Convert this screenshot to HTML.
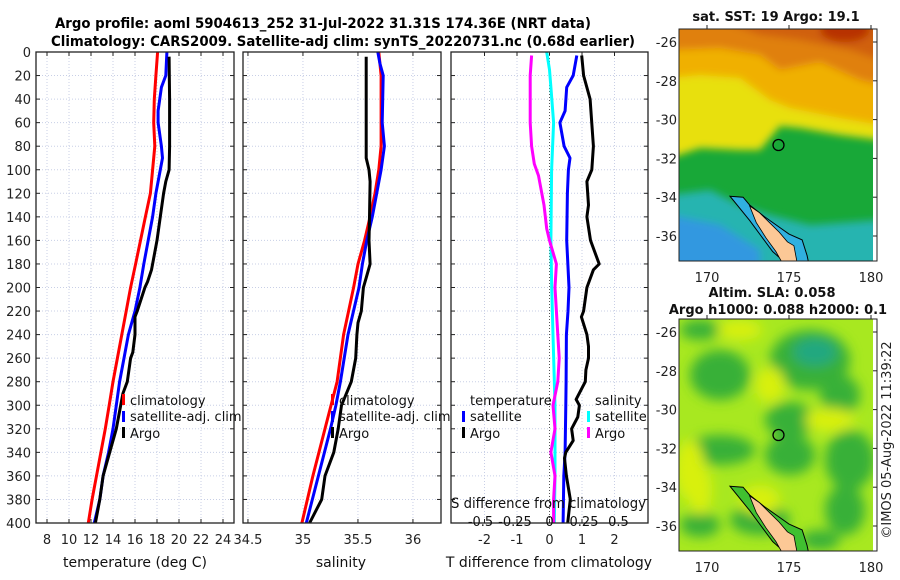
<!DOCTYPE html>
<html><head><meta charset="utf-8">
<style>
html,body{margin:0;padding:0;background:#fff;}
svg{display:block;font-family:"DejaVu Sans","Liberation Sans",sans-serif;}
</style></head>
<body>
<svg id="chart" width="900" height="580" viewBox="0 0 900 580" xmlns="http://www.w3.org/2000/svg">
<defs>
<filter id="blur4" x="-20%" y="-20%" width="140%" height="140%"><feGaussianBlur stdDeviation="4"/></filter>
<filter id="blur6" x="-20%" y="-20%" width="140%" height="140%"><feGaussianBlur stdDeviation="6"/></filter>
<clipPath id="clipMap1"><rect x="679" y="29" width="194" height="232"/></clipPath>
<clipPath id="clipMap2"><rect x="679" y="319" width="194" height="232"/></clipPath>
</defs>
<text x="323" y="28" text-anchor="middle" font-size="14" font-weight="bold" textLength="536" lengthAdjust="spacingAndGlyphs">Argo profile: aoml 5904613_252 31-Jul-2022 31.31S 174.36E (NRT data)</text>
<text x="343" y="46" text-anchor="middle" font-size="14" font-weight="bold" textLength="584" lengthAdjust="spacingAndGlyphs">Climatology: CARS2009. Satellite-adj clim: synTS_20220731.nc (0.68d earlier)</text>
<g id="panels"></g>
<g id="maps"></g>
<text transform="translate(891,440) rotate(-90)" text-anchor="middle" font-size="13" fill="#222">©IMOS 05-Aug-2022 11:39:22</text>
</svg>
<script>
// ---------- data ----------
const depthTicks = [0,20,40,60,80,100,120,140,160,180,200,220,240,260,280,300,320,340,360,380,400];
const tempTicks = [8,10,12,14,16,18,20,22,24];
const salTicks = [34.5,35,35.5,36];
const salTickLabels = ["34.5","35","35.5","36"];
const tdiffTicks = [-2,-1,0,1,2];
const sdiffTicks = [-0.5,-0.25,0,0.25,0.5];
const sdiffTickLabels = ["-0.5","-0.25","0","0.25","0.5"];

const tClimDepth = [0,20,40,60,80,100,120,140,160,180,200,220,240,260,280,300,320,340,360,380,400];
const tClim = [18.05,17.9,17.75,17.7,17.8,17.6,17.4,16.95,16.5,16.05,15.6,15.2,14.8,14.4,14.0,13.65,13.3,12.9,12.5,12.1,11.75];
const tSatDepth = [0,20,30,50,60,80,90,100,120,140,160,180,200,220,240,260,280,300,320,340,360,380,400];
const tSat = [18.9,18.8,18.4,18.1,18.1,18.4,18.5,18.3,17.9,17.6,17.2,16.8,16.45,16.0,15.4,15.0,14.6,14.3,14.0,13.6,13.1,12.8,12.3];
const tArgoDepth = [4,20,40,60,80,100,110,120,140,160,180,185,195,200,220,225,240,255,260,280,290,300,320,340,350,360,380,400];
const tArgo = [19.1,19.12,19.15,19.15,19.15,19.1,18.8,18.6,18.3,18.0,17.6,17.5,17.15,16.9,16.2,16.0,16.0,15.8,15.6,15.3,14.9,14.7,14.3,13.7,13.4,13.1,12.8,12.4];

const sClimDepth = [0,20,80,100,120,140,160,180,200,240,280,320,360,400];
const sClim = [35.69,35.71,35.71,35.69,35.655,35.61,35.56,35.5,35.46,35.37,35.31,35.2,35.09,34.99];
const sSatDepth = [0,10,20,60,80,100,120,140,160,180,200,240,280,300,320,360,400];
const sSat = [35.68,35.70,35.73,35.72,35.74,35.71,35.67,35.63,35.58,35.54,35.51,35.41,35.34,35.3,35.25,35.14,35.03];
const sArgoDepth = [4,40,90,100,110,140,160,180,190,200,220,230,240,260,280,300,320,340,360,380,400];
const sArgo = [35.575,35.575,35.575,35.6,35.61,35.605,35.6,35.61,35.58,35.55,35.53,35.5,35.49,35.48,35.44,35.35,35.32,35.28,35.2,35.17,35.06];

const dTSatDepth = [3,20,30,50,60,80,90,100,120,160,200,220,240,280,300,340,360,400];
const dTSat = [0.84,0.73,0.53,0.48,0.32,0.45,0.63,0.58,0.55,0.53,0.6,0.57,0.52,0.51,0.5,0.48,0.44,0.42];
const dTArgoDepth = [3,20,40,80,100,110,130,140,160,180,185,200,220,225,240,250,260,270,280,295,300,310,320,330,340,345,360,380,400];
const dTArgo = [0.99,1.05,1.25,1.35,1.3,1.15,1.2,1.15,1.26,1.53,1.35,1.15,1.05,0.98,1.15,1.2,1.2,1.12,1.1,0.82,0.92,0.87,0.68,0.73,0.5,0.46,0.52,0.64,0.56];
const dSSatDepth = [0,15,30,60,100,160,200,240,300,360,400];
const dSSat = [-0.02,0.0,0.01,0.03,0.015,0.01,0.016,0.025,0.04,0.04,0.035];
const dSArgoDepth = [3,20,60,80,95,105,130,150,160,180,200,220,240,260,280,300,320,340,360,380,400];
const dSArgo = [-0.13,-0.14,-0.14,-0.13,-0.11,-0.08,-0.04,-0.02,0.0,0.05,0.04,0.05,0.06,0.07,0.06,0.025,0.04,0.01,0.04,0.03,0.03];

const mapLonTicks = [170,175,180];
const mapLatTicks = [-26,-28,-30,-32,-34,-36];
const argoLon = 174.36, argoLat = -31.31;

// ---------- helpers ----------
const NS = "http://www.w3.org/2000/svg";
function mk(tag, attrs, parent){ const e=document.createElementNS(NS,tag); for(const k in attrs) e.setAttribute(k,attrs[k]); parent.appendChild(e); return e; }
const yTop=52, yBot=523;
const yScale = d => yTop + (d/400)*(yBot-yTop);
const panelsG = document.getElementById('panels');

function panelFrame(name, x0, x1, xs, ticks, labels, withDepthLabels){
  const g = mk('g',{},panelsG);
  
  
  ticks.forEach(t=>{ const x=xs(t);
    const l=mk('line',{x1:x,x2:x,y1:yTop,y2:yBot,stroke:'#c8cfe6','stroke-width':1,'stroke-dasharray':'1,2'},g);
    
    
  });
  depthTicks.forEach(d=>{ const y=yScale(d);
    const l=mk('line',{x1:x0,x2:x1,y1:y,y2:y,stroke:'#c8cfe6','stroke-width':1,'stroke-dasharray':'1,2'},g);
    
    
    mk('line',{x1:x0,x2:x0+4,y1:y,y2:y,stroke:'#222'},g);
    mk('line',{x1:x1-4,x2:x1,y1:y,y2:y,stroke:'#222'},g);
    if(withDepthLabels){ const t=mk('text',{x:x0-5,y:y+5,'text-anchor':'end','font-size':13,fill:'#222'},g); t.textContent=d;
      
       }
  });
  ticks.forEach((t,i)=>{ const x=xs(t);
    mk('line',{x1:x,x2:x,y1:yBot,y2:yBot-4,stroke:'#222'},g);
    mk('line',{x1:x,x2:x,y1:yTop,y2:yTop+4,stroke:'#222'},g);
    if(labels){ const tx=mk('text',{x:x,y:yBot+21,'text-anchor':'middle','font-size':13,fill:'#222'},g); tx.textContent=labels[i];
      
       }
  });
  return g;
}
function line(g, xs, vals, depths, color, name, w){
  const pts = vals.map((v,i)=>xs(v).toFixed(1)+','+yScale(depths[i]).toFixed(1)).join(' ');
  const p = mk('polyline',{points:pts,fill:'none',stroke:color,'stroke-width':w||3,'stroke-linejoin':'round'},g);
  
  
}
function frame(g,x0,x1){ mk('rect',{x:x0,y:yTop,width:x1-x0,height:yBot-yTop,fill:'none',stroke:'#222','stroke-width':1.3},g); }
function txt(g,x,y,s,name,opts){ const t=mk('text',Object.assign({x:x,y:y,'font-size':13,fill:'#111'},opts||{}),g); t.textContent=s;
  
   return t; }
function legMark(g,x,y,color){ mk('rect',{x:x,y:y-10,width:3,height:11,fill:color},g); }

// ---------- panel 1: temperature ----------
const tx = v => 36 + (v-7)*11;
const g1 = panelFrame('temperature-panel',36,234,tx,tempTicks,tempTicks.map(String),true);
line(g1,tx,tClim,tClimDepth,'#ff0000','temp-climatology-line');
line(g1,tx,tSat,tSatDepth,'#0000ff','temp-satellite-adj-line');
line(g1,tx,tArgo,tArgoDepth,'#000000','temp-argo-line');
frame(g1,36,234);
txt(g1,135,567,'temperature (deg C)','temperature-axis-title',{'text-anchor':'middle','font-size':14});
legMark(g1,122,404,'#ff0000'); txt(g1,130,405,'climatology','legend-climatology');
legMark(g1,122,421,'#0000ff'); txt(g1,130,421,'satellite-adj. clim','legend-satellite-adj');
legMark(g1,122,437,'#000'); txt(g1,130,438,'Argo','legend-argo');

// ---------- panel 2: salinity ----------
const sx = v => 243 + (v-34.455)*110;
const g2 = panelFrame('salinity-panel',243,441,sx,salTicks,salTickLabels,false);
line(g2,sx,sClim,sClimDepth,'#ff0000','sal-climatology-line');
line(g2,sx,sSat,sSatDepth,'#0000ff','sal-satellite-adj-line');
line(g2,sx,sArgo,sArgoDepth,'#000000','sal-argo-line');
frame(g2,243,441);
txt(g2,341,567,'salinity','salinity-axis-title',{'text-anchor':'middle','font-size':14});
legMark(g2,331,404,'#ff0000'); txt(g2,339,405,'climatology','legend-climatology');
legMark(g2,331,421,'#0000ff'); txt(g2,339,421,'satellite-adj. clim','legend-satellite-adj');
legMark(g2,331,437,'#000'); txt(g2,339,438,'Argo','legend-argo');

// ---------- panel 3: differences ----------
const dtx = v => 549.5 + v*32.5;
const dsx = v => 549.5 + v*138;
const g3 = panelFrame('difference-panel',451,648,dtx,tdiffTicks,tdiffTicks.map(String),false);
const z = mk('line',{x1:549.5,x2:549.5,y1:yTop,y2:yBot,stroke:'#555','stroke-width':1,'stroke-dasharray':'1,2'},g3);


line(g3,dsx,dSSat,dSSatDepth,'#00ffff','sal-diff-satellite-line');
line(g3,dsx,dSArgo,dSArgoDepth,'#ff00ff','sal-diff-argo-line');
line(g3,dtx,dTSat,dTSatDepth,'#0000ff','temp-diff-satellite-line');
line(g3,dtx,dTArgo,dTArgoDepth,'#000000','temp-diff-argo-line');
frame(g3,451,648);
txt(g3,549,567,'T difference from climatology','tdiff-axis-title',{'text-anchor':'middle','font-size':14});
txt(g3,451,508,'S difference from climatology','sdiff-axis-title',{'font-size':14,textLength:195,lengthAdjust:'spacingAndGlyphs'});
sdiffTicks.forEach((t,i)=>{ txt(g3,dsx(t),526,sdiffTickLabels[i],'sdiff-tick-label',{'text-anchor':'middle'}); });
txt(g3,470,405,'temperature','legend-temperature-header');
legMark(g3,462,421,'#0000ff'); txt(g3,470,421,'satellite','legend-temp-satellite');
legMark(g3,462,437,'#000'); txt(g3,470,438,'Argo','legend-temp-argo');
txt(g3,595,405,'salinity','legend-salinity-header');
legMark(g3,587,421,'#00ffff'); txt(g3,595,421,'satellite','legend-sal-satellite');
legMark(g3,587,437,'#ff00ff'); txt(g3,595,438,'Argo','legend-sal-argo');

// ---------- maps ----------
const mapsG = document.getElementById('maps');
const lonX = lon => 707 + (lon-170)*16.4;
function latY(top){ return lat => top + (-26-lat)*19.4; }
function nzLand(g, ly, fillOuter){
  const outer = [[171.4,-33.95],[172.2,-34.0],[172.6,-34.4],[173.5,-35.0],[174.5,-35.6],[175.0,-35.9],[175.8,-36.2],[176.1,-37.0],[176.2,-37.4],[174.8,-37.4],[174.0,-36.8],[173.3,-36.0],[172.6,-35.2]];
  const land = [[172.6,-34.45],[173.2,-34.8],[173.8,-35.3],[174.4,-35.8],[174.9,-36.3],[175.3,-36.5],[175.5,-37.4],[174.6,-37.4],[174.2,-36.8],[173.6,-36.1],[173.0,-35.3]];
  const ptsO = outer.map(p=>lonX(p[0])+','+ly(p[1])).join(' ');
  const o=mk('polygon',{points:ptsO,fill:fillOuter,stroke:'#000','stroke-width':1},g);
  
  
  const ptsL = land.map(p=>lonX(p[0])+','+ly(p[1])).join(' ');
  const l=mk('polygon',{points:ptsL,fill:'#fcc896',stroke:'#000','stroke-width':0.8},g);
  
  
}
function mapAxes(g, top, ly){
  mk('rect',{x:679,y:top,width:198,height:232,fill:'none',stroke:'#222','stroke-width':1},g);
  mapLatTicks.forEach(lat=>{ const y=ly(lat);
    mk('line',{x1:873,x2:877,y1:y,y2:y,stroke:'#222'},g);
    txt(g,677,y+5,String(lat),'map-lat-tick-label',{'text-anchor':'end',fill:'#222'}); });
  mapLonTicks.forEach(lon=>{ const x=lonX(lon);
    mk('line',{x1:x,x2:x,y1:top,y2:top-4,stroke:'#222'},g);
    txt(g,x,top+253,String(lon),'map-lon-tick-label',{'text-anchor':'middle',fill:'#222'}); });
  const c=mk('circle',{cx:lonX(argoLon),cy:ly(argoLat),r:5.5,fill:'none',stroke:'#000','stroke-width':1.3},g);
  
  
}
// map 1: SST
const ly1 = latY(42);
const m1 = mk('g',{},mapsG);


const m1c = mk('g',{'clip-path':'url(#clipMap1)'},m1);
mk('rect',{x:679,y:29,width:194,height:232,fill:'#18a838'},m1c);
const m1b = mk('g',{filter:'url(#blur4)'},m1c);
mk('path',{d:'M670 20 H880 V140 L840 135 L800 128 L780 126 L760 150 L740 150 L700 148 L670 158 Z',fill:'#e8e010'},m1b);
mk('path',{d:'M670 20 H880 V125 L840 118 L790 108 L770 100 L740 78 L700 75 L670 78 Z',fill:'#f0b000'},m1b);
mk('path',{d:'M670 20 H880 V85 L860 80 L820 62 L780 70 L760 55 L720 48 L670 50 Z',fill:'#e08010'},m1b);
mk('path',{d:'M720 20 H880 V60 L850 50 L800 40 L760 35 Z',fill:'#d06010'},m1b);
mk('ellipse',{cx:845,cy:30,rx:25,ry:12,fill:'#b83000'},m1b);
mk('path',{d:'M670 195 L710 190 L740 205 L770 215 L810 225 L880 220 V270 H670 Z',fill:'#28b4b0'},m1b);
mk('path',{d:'M670 215 L720 225 L760 250 L760 270 H670 Z',fill:'#3098e0'},m1b);
nzLand(m1c, ly1, '#30b0e0');
mapAxes(m1, 29, ly1);
txt(m1,776,21,'sat. SST: 19 Argo: 19.1','sst-map-title',{'text-anchor':'middle','font-weight':'bold','font-size':13});
// map 2: SLA
const ly2m = latY(332);
const m2 = mk('g',{},mapsG);


const m2c = mk('g',{'clip-path':'url(#clipMap2)'},m2);
mk('rect',{x:679,y:319,width:194,height:232,fill:'#a8e820'},m2c);
const m2b = mk('g',{filter:'url(#blur6)'},m2c);
[[720,375,30,25],[810,360,40,30],[840,395,20,20],[790,420,25,18],[720,450,35,15],[790,455,25,20],[850,460,25,30],[845,510,20,25],[760,520,30,15],[700,525,20,12],[820,540,20,10],[700,330,20,10]].forEach(e=>{
  mk('ellipse',{cx:e[0],cy:e[1],rx:e[2],ry:e[3],fill:'#38b038'},m2b);
});
mk('ellipse',{cx:815,cy:352,rx:22,ry:14,fill:'#20a880'},m2b);
[[740,330,22,10],[770,385,15,18],[690,470,15,30],[700,490,12,25],[830,420,25,12],[760,500,20,15]].forEach(e=>{
  mk('ellipse',{cx:e[0],cy:e[1],rx:e[2],ry:e[3],fill:'#d8f010'},m2b);
});
nzLand(m2c, ly2m, '#40c030');
mapAxes(m2, 319, ly2m);
txt(m2,772,297,'Altim. SLA: 0.058','sla-map-title-1',{'text-anchor':'middle','font-weight':'bold','font-size':13});
txt(m2,778,314,'Argo h1000: 0.088 h2000: 0.1','sla-map-title-2',{'text-anchor':'middle','font-weight':'bold','font-size':13});
</script>
</body></html>
